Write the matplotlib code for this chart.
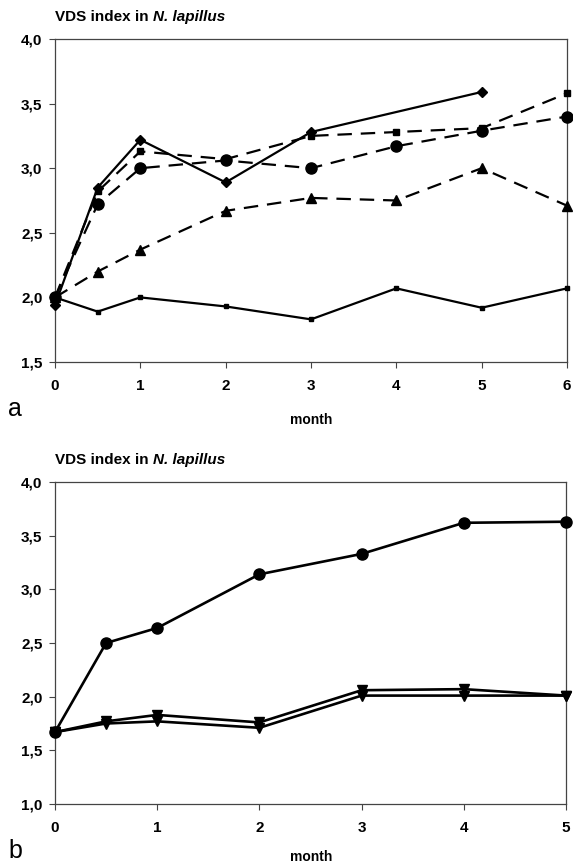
"""VDS index in N. lapillus — two-panel line chart (a: 0-6 months, b: 0-5 months)."""
import matplotlib
matplotlib.use("Agg")
import matplotlib.pyplot as plt

# ---- panel a data ----
months_a = [0, 0.5, 1, 2, 3, 4, 5, 6]
diamond_months = [0, 0.5, 1, 2, 3, 5]
diamond_vals = [1.94, 2.85, 3.22, 2.89, 3.28, 3.59]
square_vals = [2.0, 2.82, 3.13, 3.07, 3.25, 3.28, 3.31, 3.58]
circle_vals_a = [2.0, 2.72, 3.0, 3.06, 3.0, 3.17, 3.29, 3.40]
triangle_vals = [2.0, 2.20, 2.37, 2.67, 2.77, 2.75, 3.0, 2.71]
control_vals = [2.0, 1.89, 2.0, 1.93, 1.83, 2.07, 1.92, 2.07]

# ---- panel b data ----
months_b = [0, 0.5, 1, 2, 3, 4, 5]
circle_vals_b = [1.67, 2.50, 2.64, 3.14, 3.33, 3.62, 3.63]
tri_upper_vals = [1.67, 1.77, 1.83, 1.76, 2.06, 2.07, 2.01]
tri_lower_vals = [1.67, 1.75, 1.77, 1.71, 2.01, 2.01, 2.01]

yticks_a = [1.5, 2.0, 2.5, 3.0, 3.5, 4.0]
yticks_b = [1.0, 1.5, 2.0, 2.5, 3.0, 3.5, 4.0]

plt.rcParams["font.family"] = ["Liberation Sans", "DejaVu Sans"]
plt.rcParams["font.weight"] = "bold"

W, H = 573, 863
fig = plt.figure(figsize=(W / 100, H / 100), dpi=100)

DASH = (0, (6.5, 4))
LW = 1.6


def box(x0, y0, x1, y1):
    # pixel box (top-left origin) -> figure fraction rect
    return [x0 / W, 1 - y1 / H, (x1 - x0) / W, (y1 - y0) / H]


def style(ax, yticks, xmax):
    ax.set_xlim(0, xmax)
    ax.set_ylim(yticks[0], yticks[-1])
    ax.set_yticks(yticks)
    ax.set_yticklabels([f"{v:.1f}".replace(".", ",") for v in yticks])
    ax.set_xticks(range(xmax + 1))
    for s in ax.spines.values():
        s.set_color("#444444")
        s.set_linewidth(0.9)
    ax.tick_params(direction="out", length=4, width=0.8, color="#444444",
                   labelsize=11, pad=5)
    ax.tick_params(axis="x", pad=8)
    for lab in ax.get_xticklabels() + ax.get_yticklabels():
        lab.set_fontweight("bold")


def title(ax_top_px):
    y = 1 - (ax_top_px - 22) / H
    t1 = fig.text(55 / W, y, "VDS index in ", fontsize=11, fontweight="bold",
                  va="center", ha="left")
    fig.canvas.draw()
    bb = t1.get_window_extent()
    fig.text(bb.x1 / W, y, "N. lapillus", fontsize=11, fontweight="bold",
             style="italic", va="center", ha="left")


# ---- panel a ----
ax1 = fig.add_axes(box(55, 39, 567, 362))
ax1.plot(months_a, control_vals, color="black", lw=LW, marker="s", ms=2.5,
         clip_on=False, zorder=3)
ax1.plot(months_a, triangle_vals, color="black", lw=LW, linestyle=DASH,
         marker="^", ms=7, clip_on=False, zorder=3)
ax1.plot(months_a, circle_vals_a, color="black", lw=LW, linestyle=DASH,
         marker="o", ms=8, clip_on=False, zorder=3)
ax1.plot(months_a, square_vals, color="black", lw=LW, linestyle=DASH,
         marker="s", ms=5, clip_on=False, zorder=3)
ax1.plot(diamond_months, diamond_vals, color="black", lw=LW, marker="D",
         ms=5.5, clip_on=False, zorder=4)
style(ax1, yticks_a, 6)
title(39)
fig.text(311 / W, 1 - 420 / H, "month", fontsize=10, fontweight="bold",
         ha="center", va="center")
fig.text(8 / W, 1 - 409 / H, "a", fontsize=18, fontweight="normal",
         ha="left", va="center")

# ---- panel b ----
ax2 = fig.add_axes(box(55, 482, 566, 804))
ax2.plot(months_b, tri_lower_vals, color="black", lw=LW + 0.3, marker="v",
         ms=7, clip_on=False, zorder=3)
ax2.plot(months_b, tri_upper_vals, color="black", lw=LW + 0.3, marker="v",
         ms=7, clip_on=False, zorder=3)
ax2.plot(months_b, circle_vals_b, color="black", lw=LW + 0.3, marker="o",
         ms=8, clip_on=False, zorder=4)
style(ax2, yticks_b, 5)
title(482)
fig.text(311 / W, 1 - 857 / H, "month", fontsize=10, fontweight="bold",
         ha="center", va="center")
fig.text(8 / W, 1 - 851 / H, "b", fontsize=18, fontweight="normal",
         ha="left", va="center")

fig.savefig("out.png", dpi=100)
